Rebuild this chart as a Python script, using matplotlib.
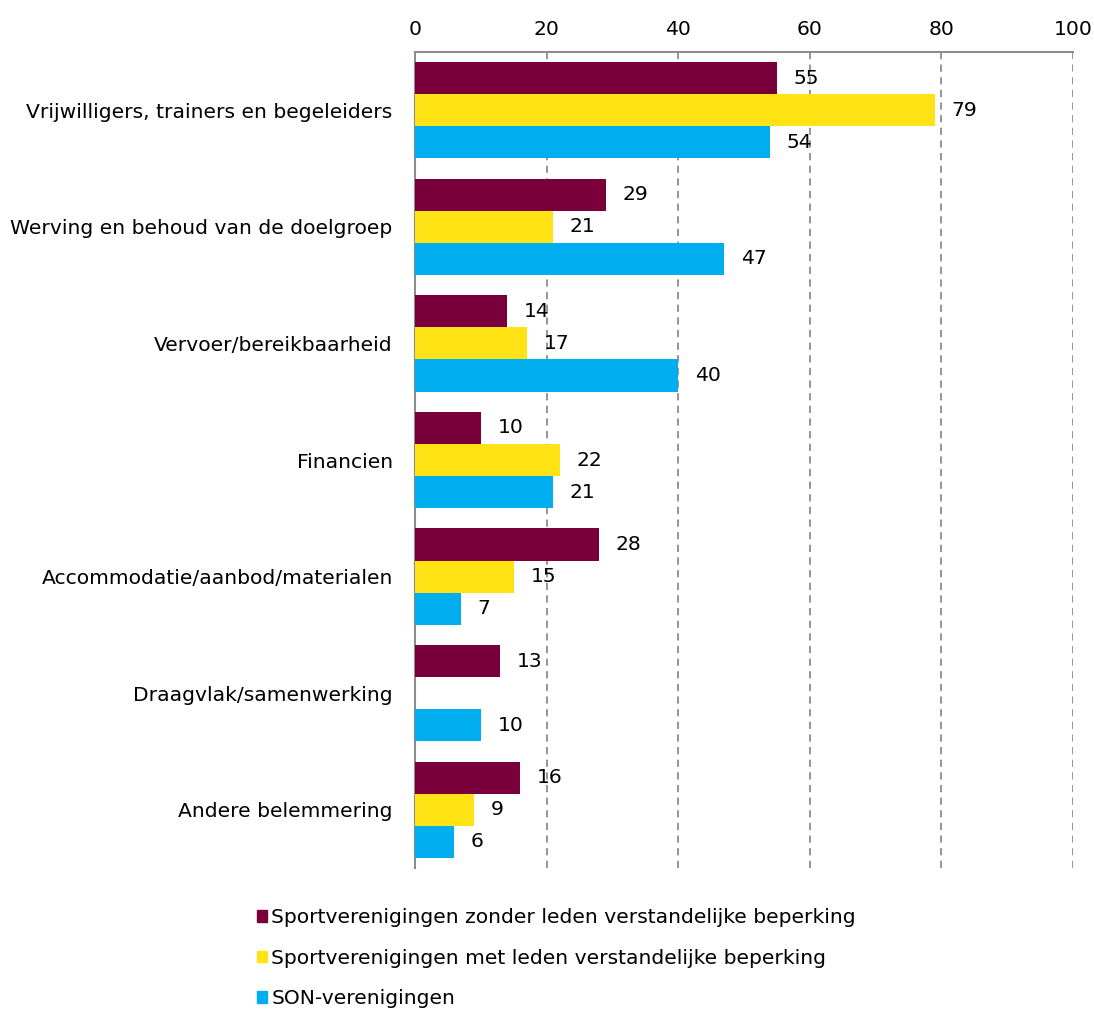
import numpy as np
import matplotlib
matplotlib.use('Agg')
import matplotlib.pyplot as plt
from matplotlib.patches import Patch

# categories and series values
categories = ['Vrijwilligers, trainers en begeleiders', 'Werving en behoud van de doelgroep',
              'Vervoer/bereikbaarheid', 'Financien', 'Accommodatie/aanbod/materialen',
              'Draagvlak/samenwerking', 'Andere belemmering']
zonder = [55, 29, 14, 10, 28, 13, 16]
met = [79, 21, 17, 22, 15, np.nan, 9]
son = [54, 47, 40, 21, 7, 10, 6]
series_names = ['Sportverenigingen zonder leden verstandelijke beperking',
                'Sportverenigingen met leden verstandelijke beperking',
                'SON-verenigingen']
colors = ['#7A003C', '#FFE314', '#00AEEF']
xticks = [0, 20, 40, 60, 80, 100]

plt.rcParams['font.family'] = 'DejaVu Sans'
fs = 14.6

fig = plt.figure(figsize=(10.94, 10.09), dpi=100)
ax = fig.add_axes([0.3793, 0.1397, 0.6015, 0.8088])

y = np.arange(len(categories))
h = 0.275
for i, (vals, col) in enumerate(zip([zonder, met, son], colors)):
    pos = y + (i - 1) * h
    ax.barh(pos, vals, height=h, color=col, zorder=3)
    for p, v in zip(pos, vals):
        if np.isnan(v):
            continue
        ax.annotate(str(int(v)), (v, p), xytext=(12, 0), textcoords='offset points',
                    va='center', ha='left', fontsize=fs, zorder=4)

ax.set_xlim(0, 100)
ax.set_ylim(len(categories) - 0.5, -0.5)
ax.set_xticks(xticks)
ax.xaxis.tick_top()
ax.set_yticks(y)
ax.set_yticklabels(categories)
ax.tick_params(axis='x', length=0, pad=9, labelsize=fs)
ax.tick_params(axis='y', length=0, pad=16, labelsize=fs)
ax.grid(axis='x', linestyle=(0, (4, 3)), color='#8c8c8c', linewidth=1.3, zorder=1)
for s in ['right', 'bottom']:
    ax.spines[s].set_visible(False)
for s in ['top', 'left']:
    ax.spines[s].set_color('#8c8c8c')
    ax.spines[s].set_linewidth(1.5)

handles = [Patch(color=c) for c in colors]
fig.legend(handles, series_names, loc='upper left', bbox_to_anchor=(0.235, 0.100),
           frameon=False, fontsize=fs, handlelength=0.5, handleheight=0.5,
           handletextpad=0.2, labelspacing=1.06, borderpad=0, borderaxespad=0)

fig.savefig('out.png', dpi=100)
